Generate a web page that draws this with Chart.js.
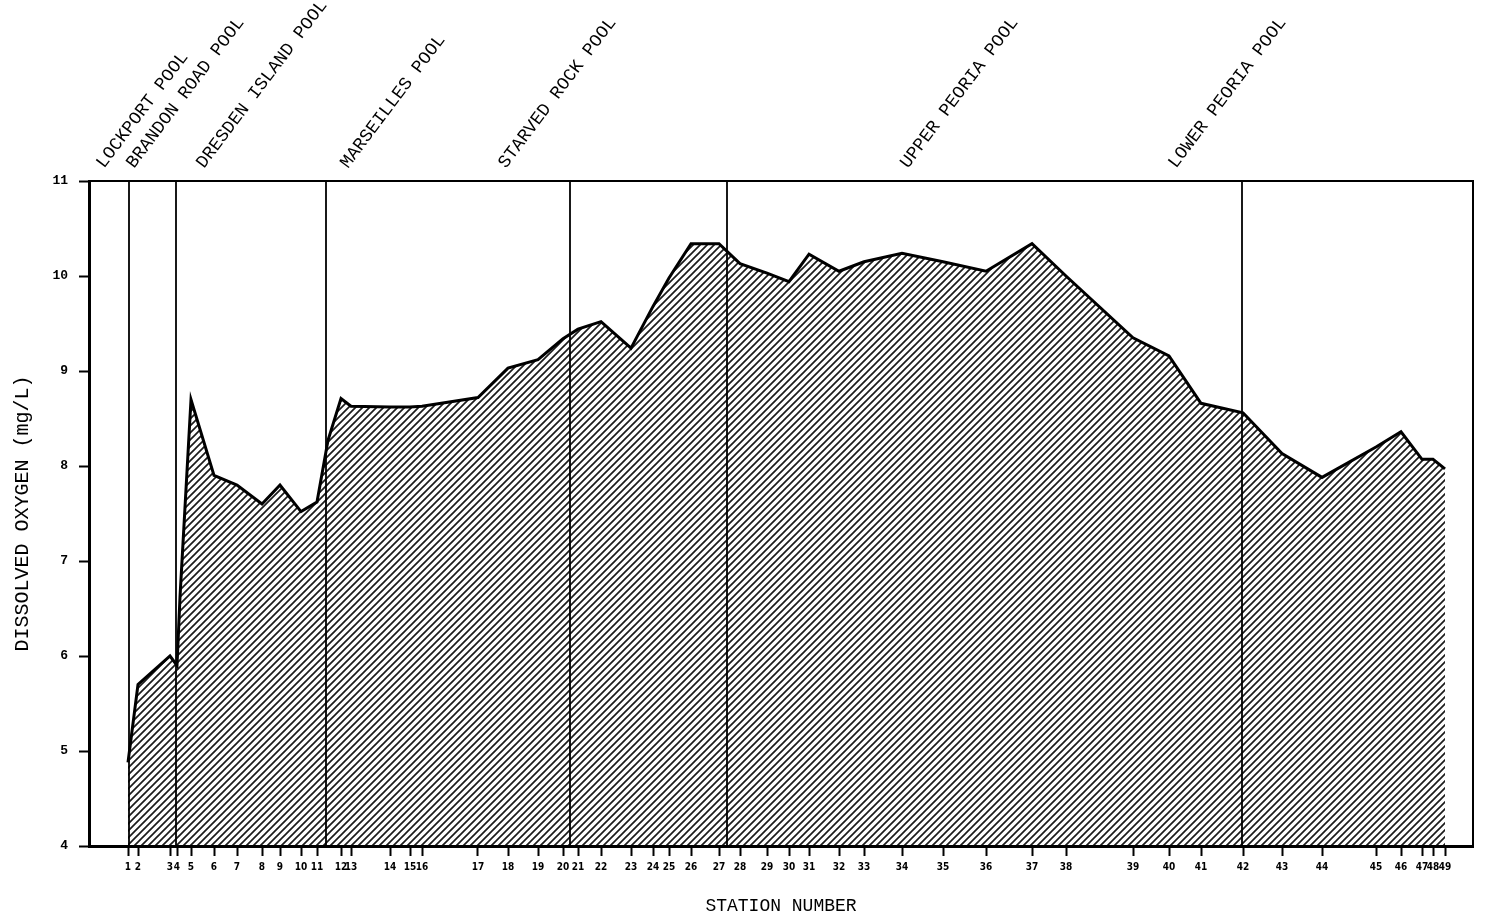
<!DOCTYPE html>
<html>
<head>
<meta charset="utf-8">
<script src="https://cdn.jsdelivr.net/npm/chart.js@4.4.1/dist/chart.umd.min.js"></script>
<style>
  html, body { margin: 0; padding: 0; background: #fff; }
  #wrap { width: 1488px; height: 917px; }
</style>
</head>
<body>
<div id="wrap"><canvas id="doChart"></canvas></div>
<script>
// station numbers along the river and where each sits on the horizontal axis
var stations = [1, 2, 3, 4, 5, 6, 7, 8, 9, 10, 11, 12, 13, 14, 15, 16, 17, 18, 19, 20,
    21, 22, 23, 24, 25, 26, 27, 28, 29, 30, 31, 32, 33, 34, 35, 36, 37, 38, 39, 40,
    41, 42, 43, 44, 45, 46, 47, 48, 49];
var stationPos = [39, 49, 81, 88, 102, 125, 148, 173, 191, 212, 228, 252, 262, 301, 321, 333, 389, 419, 449, 474,
    489, 512, 542, 564, 580, 602, 630, 651, 678, 700, 720, 750, 775, 813, 854, 897, 943, 977, 1044, 1080,
    1112, 1154, 1193, 1233, 1287, 1312, 1333, 1344, 1356];
// dissolved oxygen (mg/L) at each station
var stationDO = [4.88, 5.7, 6.0, 5.9, 8.7, 7.9, 7.8, 7.6, 7.8, 7.52, 7.62, 8.71, 8.63, 8.62, 8.62, 8.63, 8.72, 9.03, 9.12, 9.34,
    9.44, 9.52, 9.24, 9.68, 9.98, 10.34, 10.34, 10.13, 10.03, 9.94, 10.23, 10.05, 10.15, 10.24, 10.15, 10.05, 10.34, 10.0, 9.35, 9.16,
    8.66, 8.56, 8.13, 7.88, 8.2, 8.36, 8.07, 8.07, 7.97];
// readings just below the dams, between stations
var damPos = [91, 239];
var damDO = [6.62, 8.27];

// pools and the lock & dam lines that separate them
var poolNames = ['LOCKPORT POOL', 'BRANDON ROAD POOL', 'DRESDEN ISLAND POOL', 'MARSEILLES POOL',
    'STARVED ROCK POOL', 'UPPER PEORIA POOL', 'LOWER PEORIA POOL'];
var poolLabelAt = [15, 45, 115, 259, 417, 819, 1087];
var damLines = [40, 87, 237, 481, 638, 1153];

var profile = stationPos.map(function (p, i) { return { x: p, y: stationDO[i] }; })
    .concat(damPos.map(function (p, i) { return { x: p, y: damDO[i] }; }))
    .sort(function (a, b) { return a.x - b.x; });

function makeHatch() {
    var size = 7;
    var c = document.createElement('canvas');
    c.width = size; c.height = size;
    var g = c.getContext('2d');
    g.strokeStyle = '#1c1c1c';
    g.lineWidth = 1.7;
    g.beginPath();
    g.moveTo(-1, size + 1); g.lineTo(size + 1, -1);
    g.moveTo(-1, 1); g.lineTo(1, -1);
    g.moveTo(size - 1, size + 1); g.lineTo(size + 1, size - 1);
    g.stroke();
    return g.createPattern(c, 'repeat');
}

var datasets = [{
    data: profile,
    borderColor: '#000',
    borderWidth: 3,
    backgroundColor: makeHatch(),
    fill: 'start',
    tension: 0,
    pointRadius: 0,
    order: 2
}];
damLines.forEach(function (p) {
    datasets.push({
        data: [{ x: p, y: 4 }, { x: p, y: 11 }],
        borderColor: '#000',
        borderWidth: 1.8,
        pointRadius: 0,
        fill: false,
        order: 1
    });
});

var frameAndPools = {
    id: 'frameAndPools',
    afterDraw: function (chart) {
        var ctx = chart.ctx, a = chart.chartArea, xs = chart.scales.x;
        ctx.save();
        ctx.strokeStyle = '#000';
        ctx.lineWidth = 2;
        ctx.strokeRect(a.left, a.top, a.right - a.left, a.bottom - a.top);
        ctx.fillStyle = '#000';
        ctx.font = '18px "Liberation Mono", monospace';
        ctx.textAlign = 'left';
        ctx.textBaseline = 'alphabetic';
        poolNames.forEach(function (name, i) {
            ctx.save();
            ctx.translate(xs.getPixelForValue(poolLabelAt[i]), a.top - 12);
            ctx.rotate(-53 * Math.PI / 180);
            ctx.fillText(name, 0, 0);
            ctx.restore();
        });
        ctx.restore();
    }
};

new Chart(document.getElementById('doChart'), {
    type: 'line',
    data: { datasets: datasets },
    options: {
        animation: false,
        responsive: true,
        maintainAspectRatio: false,
        layout: { padding: { top: 181, right: 15, left: 0, bottom: 0 } },
        plugins: {
            legend: { display: false },
            tooltip: { enabled: false }
        },
        scales: {
            x: {
                type: 'linear',
                min: 0,
                max: 1384,
                afterBuildTicks: function (s) {
                    s.ticks = stationPos.map(function (p) { return { value: p }; });
                },
                afterFit: function (s) { s.height = 71; },
                ticks: {
                    autoSkip: false,
                    maxRotation: 0,
                    padding: 5,
                    color: '#000',
                    font: { family: '"Liberation Sans Narrow", "DejaVu Sans Condensed", sans-serif', size: 10, weight: 'bold' },
                    callback: function (v, i) { return String(stations[i]); }
                },
                grid: { drawOnChartArea: false, tickLength: 10, tickWidth: 2, tickColor: '#000' },
                border: { color: '#000', width: 3 },
                title: {
                    display: true,
                    text: 'STATION NUMBER',
                    color: '#000',
                    font: { family: '"Liberation Mono", monospace', size: 18 },
                    padding: { top: 0, bottom: 0 }
                }
            },
            y: {
                min: 4,
                max: 11,
                afterFit: function (s) { s.width = 89; },
                ticks: {
                    stepSize: 1,
                    padding: 11,
                    color: '#000',
                    font: { family: '"Liberation Mono", monospace', size: 13, weight: 'bold' }
                },
                grid: { drawOnChartArea: false, tickLength: 10, tickWidth: 2, tickColor: '#000' },
                border: { color: '#000', width: 3 },
                title: {
                    display: true,
                    text: 'DISSOLVED OXYGEN (mg/L)',
                    color: '#000',
                    font: { family: '"Liberation Mono", monospace', size: 20 },
                    padding: { top: 11, bottom: 0 }
                }
            }
        }
    },
    plugins: [frameAndPools]
});
</script>
</body>
</html>
